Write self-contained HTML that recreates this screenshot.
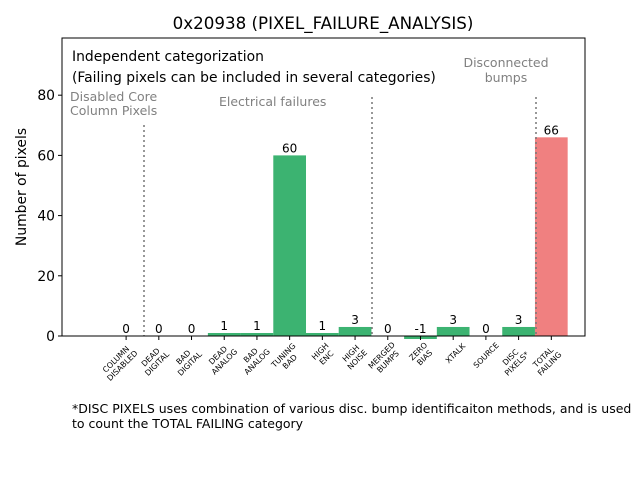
<!DOCTYPE html>
<html><head><meta charset="utf-8"><style>
body{margin:0;background:#fff;width:640px;height:480px;overflow:hidden}
svg{font-family:"DejaVu Sans","Liberation Sans",sans-serif}
</style></head><body>
<svg id="c" width="640" height="480" xmlns="http://www.w3.org/2000/svg">
<rect width="640" height="480" fill="#fff"/>
<text x="323" y="29" font-size="16.7" text-anchor="middle">0x20938 (PIXEL_FAILURE_ANALYSIS)</text>
<text transform="translate(26,187) rotate(-90)" font-size="13.9" text-anchor="middle">Number of pixels</text>
<g id="bars"></g>
<g id="vals" font-size="12" text-anchor="middle"></g>
<g id="xt" font-size="7.8"></g>
<g id="yt" font-size="13.9" text-anchor="end"></g>
<g stroke="#777" stroke-width="1.5" stroke-dasharray="2,3">
<line x1="144" y1="125" x2="144" y2="336"/>
<line x1="372" y1="97" x2="372" y2="336"/>
<line x1="536" y1="97" x2="536" y2="336"/>
</g>
<rect x="62" y="38" width="523" height="298" fill="none" stroke="#000" stroke-width="1"/>
<text x="72" y="61" font-size="13.9">Independent categorization</text>
<text x="72" y="82" font-size="13.9">(Failing pixels can be included in several categories)</text>
<g fill="#808080" font-size="12.5">
<text x="70" y="101">Disabled Core</text>
<text x="70" y="115">Column Pixels</text>
<text x="219" y="106">Electrical failures</text>
<text x="506" y="67" text-anchor="middle">Disconnected</text>
<text x="506" y="82" text-anchor="middle">bumps</text>
</g>
<text x="72" y="413" font-size="12.5">*DISC PIXELS uses combination of various disc. bump identificaiton methods, and is used</text>
<text x="72" y="428" font-size="12.5">to count the TOTAL FAILING category</text>
</svg>
<script>
const categories=[["COLUMN","DISABLED"],["DEAD","DIGITAL"],["BAD","DIGITAL"],["DEAD","ANALOG"],["BAD","ANALOG"],["TUNING","BAD"],["HIGH","ENC"],["HIGH","NOISE"],["MERGED","BUMPS"],["ZERO","BIAS"],["XTALK"],["SOURCE"],["DISC","PIXELS*"],["TOTAL","FAILING"]];
const values=[0,0,0,1,1,60,1,3,0,-1,3,0,3,66];
const yTicks=[0,20,40,60,80];
const NS="http://www.w3.org/2000/svg";
const X0=62,X1=585,Y0=336,YT=38;
const xmin=-1.96,xmax=14.03,ymax=99;
function xs(i){return X0+(i-xmin)/(xmax-xmin)*(X1-X0);}
function ys(v){return Y0-v/ymax*(Y0-YT);}
const bw=xs(1)-xs(0);
const bars=document.getElementById('bars'),vals=document.getElementById('vals'),xt=document.getElementById('xt'),yt=document.getElementById('yt');
values.forEach((v,i)=>{
  const r=document.createElementNS(NS,'rect');
  
  
  const top=Math.min(ys(v),ys(0)),h=Math.abs(ys(v)-ys(0));
  r.setAttribute('x',xs(i)-bw/2);r.setAttribute('y',top);r.setAttribute('width',bw);r.setAttribute('height',h);
  r.setAttribute('fill',i===categories.length-1?'#f08080':'#3cb371');
  bars.appendChild(r);
  const t=document.createElementNS(NS,'text');
  
  
  t.setAttribute('x',xs(i));t.setAttribute('y',Math.min(ys(Math.max(v,0)),ys(0))-3);
  t.textContent=v;vals.appendChild(t);
  const tk=document.createElementNS(NS,'line');
  
  
  tk.setAttribute('x1',xs(i));tk.setAttribute('x2',xs(i));tk.setAttribute('y1',Y0);tk.setAttribute('y2',Y0+4);tk.setAttribute('stroke','#000');
  xt.appendChild(tk);
  const n=categories[i].length;
  const w=Math.max(...categories[i].map(s=>s.length))*5.6;
  const hh=n*9;
  const cx=xs(i)-(w/2)*0.707-(hh/2)*0.707+15;
  const cy=Y0+4+(w/2)*0.707-(hh/2)*0.707+hh*0.707;
  const lab=document.createElementNS(NS,'text');
  
  
  lab.setAttribute('text-anchor','middle');
  lab.setAttribute('transform','translate('+cx+','+cy+') rotate(-45)');
  categories[i].forEach((s,k)=>{const ts=document.createElementNS(NS,'tspan');ts.setAttribute('x',0);ts.setAttribute('y',(k-(n-1)/2)*9+3);ts.textContent=s;lab.appendChild(ts);});
  xt.appendChild(lab);
});
yTicks.forEach(v=>{
  const tk=document.createElementNS(NS,'line');
  
  
  tk.setAttribute('x1',X0-4);tk.setAttribute('x2',X0);tk.setAttribute('y1',ys(v));tk.setAttribute('y2',ys(v));tk.setAttribute('stroke','#000');
  yt.appendChild(tk);
  const t=document.createElementNS(NS,'text');
  
  
  t.setAttribute('x',X0-7);t.setAttribute('y',ys(v)+5);t.textContent=v;yt.appendChild(t);
});
</script>
</body></html>
